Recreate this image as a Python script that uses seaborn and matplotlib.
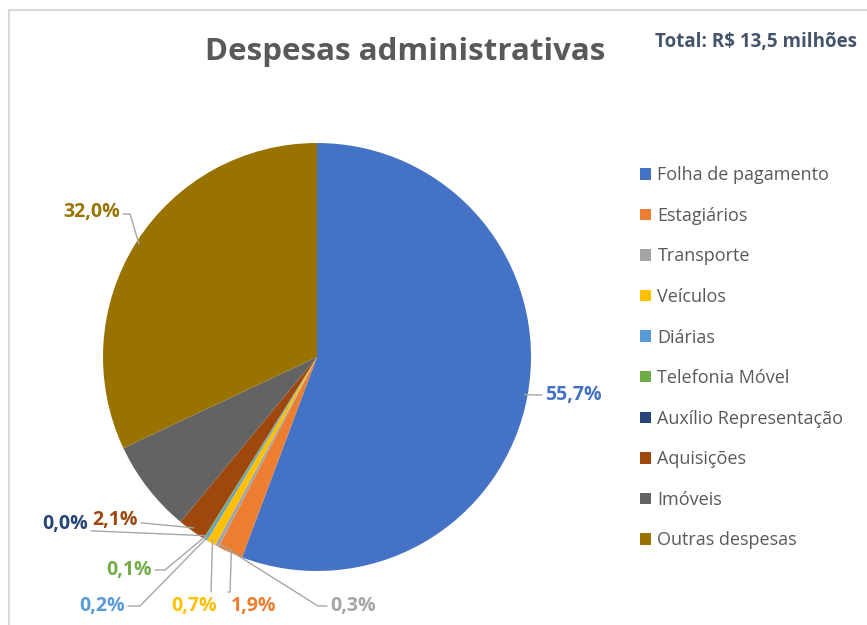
import numpy as np
import matplotlib
matplotlib.use("Agg")
import matplotlib.pyplot as plt
import seaborn as sns

sns.set_theme(style="white")
plt.rcParams['font.family'] = ['Open Sans', 'DejaVu Sans']

# dados
categorias = ['Folha de pagamento', 'Estagiários', 'Transporte', 'Veículos', 'Diárias',
              'Telefonia Móvel', 'Auxílio Representação', 'Aquisições', 'Imóveis',
              'Outras despesas']
percentuais = [55.7, 1.9, 0.3, 0.7, 0.2, 0.1, 0.0, 2.1, 7.0, 32.0]
mostrar_rotulo = [True, True, True, True, True, True, True, True, False, True]
cores = ['#4472C4', '#ED7D31', '#A5A5A5', '#FFC000', '#5B9BD5',
         '#70AD47', '#264478', '#9E480E', '#636363', '#997300']
titulo = 'Despesas administrativas'
subtitulo = 'Total: R$ 13,5 milhões'

W, H = 867, 625
CX, CY, R = 317, 357, 214

fig = plt.figure(figsize=(W / 100, H / 100), dpi=100)
ax = fig.add_axes([(CX - R) / W, 1 - (CY + R) / H, 2 * R / W, 2 * R / H])

wedges, _ = ax.pie(percentuais, colors=cores, startangle=90, counterclock=False,
                   radius=1, wedgeprops=dict(linewidth=0))
ax.set_xlim(-1, 1)
ax.set_ylim(-1, 1)
ax.set_aspect('equal')
ax.axis('off')


def px(x, y):
    return (x - CX) / R, (CY - y) / R


# posição do texto (px), alinhamento, cotovelo da linha (px)
layout = [
    ((545, 395), 'left', (537, 395)),
    ((231, 606), 'left', (230, 592)),
    ((330, 606), 'left', (318, 606)),
    ((194, 606), 'center', (211, 592)),
    ((125, 606), 'right', (140, 606)),
    ((152, 570), 'right', (165, 570)),
    ((88, 524), 'right', (95, 531)),
    ((138, 520), 'right', (143, 523)),
    None,
    ((120, 212), 'right', (130, 214)),
]

for w, p, c, show, lay in zip(wedges, percentuais, cores, mostrar_rotulo, layout):
    if not show or lay is None:
        continue
    ang = np.deg2rad((w.theta1 + w.theta2) / 2)
    ax0, ay0 = np.cos(ang) * 0.985, np.sin(ang) * 0.985
    (tx, ty), ha, (ex, ey) = lay
    exd, eyd = px(ex, ey)
    txd, tyd = px(tx, ty)
    if ha == 'left':
        endx = txd - 3 / R
    elif ha == 'right':
        endx = txd + 3 / R
    else:
        endx = exd
    if ha == 'center':
        xs, ys = [ax0, exd], [ay0, eyd]
    else:
        xs, ys = [ax0, exd, endx], [ay0, eyd, eyd]
    ax.plot(xs, ys, color='#A6A6A6', lw=1.0, clip_on=False, zorder=1)
    ax.text(txd, tyd, f'{p:.1f}%'.replace('.', ','), ha=ha, va='center',
            fontsize=14, fontweight='bold', color=c, clip_on=False)

# título
fig.text(205 / W, 1 - 52 / H, titulo, fontsize=22.5, fontweight='bold',
         color='#595959', ha='left', va='center')
fig.text(857 / W, 1 - 42 / H, subtitulo, fontsize=13.5, fontweight='bold',
         color='#44546A', ha='right', va='center')

# legenda
leg = fig.legend(wedges, categorias, loc='upper left',
                 bbox_to_anchor=(624 / W, 1 - 150 / H), frameon=False,
                 handlelength=0.6, handleheight=0.6, handletextpad=0.35,
                 labelspacing=1.25, fontsize=13, labelcolor='#595959')

# moldura
fig.add_artist(plt.Line2D([9 / W, 9 / W], [0, 1 - 10 / H], color='#D9D9D9', lw=1.5))
fig.add_artist(plt.Line2D([9 / W, 1], [1 - 10 / H, 1 - 10 / H], color='#D9D9D9', lw=1.5))

fig.savefig('out.png', dpi=100)
